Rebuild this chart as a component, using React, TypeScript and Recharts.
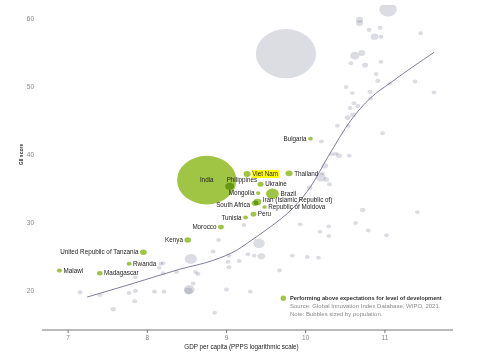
import { ScatterChart, Scatter, XAxis, YAxis, Label } from 'recharts'

const FONT = '"Liberation Sans", Arial, sans-serif'
const GREEN = '#A0C443'
const GREY = '#DCDDE2'

const xTicks = [7, 8, 9, 10, 11]
const yTicks = [20, 30, 40, 50, 60]

// countries performing above expectations (labelled, green)
const countries = [
  'India', 'Philippines', 'Viet Nam', 'Thailand', 'Ukraine', 'Mongolia', 'Brazil',
  'South Africa', 'Iran (Islamic Republic of)', 'Republic of Moldova', 'Bulgaria',
  'Peru', 'Tunisia', 'Morocco', 'Kenya', 'United Republic of Tanzania', 'Rwanda',
  'Malawi', 'Madagascar',
]
const countryGdp = [8.75, 9.04, 9.26, 9.79, 9.43, 9.4, 9.58, 9.36, 9.39, 9.48, 10.06, 9.34, 9.24, 8.93, 8.51, 7.95, 7.77, 6.89, 7.4]
const countryGii = [36.3, 35.4, 37.2, 37.3, 35.7, 34.4, 34.3, 32.9, 33.1, 32.35, 42.4, 31.3, 30.8, 29.4, 27.5, 25.7, 24.0, 23.0, 22.6]
const countryPop = [1380, 110, 70, 70, 44, 3, 213, 59, 84, 3, 7, 33, 12, 37, 54, 60, 13, 19, 28]

// all other economies (grey)
const otherGdp = [
  9.75, 11.04, 10.68, 10.68, 10.8, 10.94, 10.87, 10.95, 11.45, 10.62, 10.71, 10.57, 10.75, 10.95,
  10.89, 10.91, 11.06, 11.38, 11.62, 10.51, 10.59, 10.81, 10.82, 10.61, 10.66, 10.56, 10.53, 10.6,
  10.4, 10.54, 10.97, 10.2, 10.33, 10.38, 10.42, 10.55, 10.24, 10.21, 10.19, 10.26, 10.3, 10.05,
  10.72, 11.41, 9.93, 10.63, 10.79, 11.02, 10.29, 10.18, 10.29, 10.16, 9.41, 8.55, 8.83, 9.03,
  9.02, 9.03, 9.27, 9.35, 9.44, 9.16, 9.83, 10.02, 9.67, 8.61, 8.64, 8.58, 8.53, 8.52, 9.0, 9.3,
  8.85, 8.9, 8.2, 8.37, 8.21, 8.17, 8.15, 8.2, 7.85, 7.15, 7.4, 7.77, 7.85, 8.09, 7.84, 7.57, 9.22,
]
const otherGii = [
  54.9, 61.4, 59.9, 59.4, 58.4, 58.7, 57.4, 57.4, 57.9, 54.6, 55.0, 53.5, 53.2, 53.7,
  51.9, 50.9, 50.5, 50.8, 49.2, 50.0, 49.1, 49.3, 48.3, 47.6, 47.2, 46.9, 45.5, 45.9,
  44.3, 44.3, 43.2, 42.0, 40.1, 40.2, 39.9, 39.9, 38.4, 37.3, 36.7, 36.4, 35.7, 35.2,
  31.9, 31.6, 29.8, 30.0, 28.9, 28.2, 29.5, 28.7, 28.1, 24.9, 27.0, 24.7, 25.8, 25.2,
  24.3, 23.5, 25.4, 25.2, 25.1, 24.4, 25.2, 25.0, 23.0, 22.8, 22.5, 21.1, 20.2, 20.0, 20.2, 19.9,
  16.8, 27.5, 24.1, 22.8, 19.9, 24.0, 23.4, 22.6, 22.0, 19.8, 19.4, 19.7, 20.0, 19.9, 18.5, 17.3, 29.7,
]
const otherPop = [
  1400, 330, 70, 70, 15, 15, 83, 10, 8, 126, 67, 10, 40, 10,
  10, 15, 10, 10, 10, 10, 10, 10, 10, 10, 10, 10, 40, 40,
  10, 10, 10, 10, 10, 10, 38, 10, 60, 10, 145, 30, 10, 25,
  25, 10, 10, 10, 10, 10, 10, 10, 10, 10, 180, 200, 10, 15,
  15, 15, 10, 10, 80, 10, 10, 10, 10, 15, 15, 15, 165, 100, 15, 10,
  10, 10, 10, 10, 15, 10, 10, 10, 10, 20, 15, 10, 20, 15, 15, 25, 10,
]

// fitted trend line
const trendGdp = [7.24, 7.82, 8.41, 8.83, 9.13, 9.32, 9.55, 9.84, 10.06, 10.28, 10.57, 10.82, 11.08, 11.62]
const trendGii = [19.1, 21.1, 23.2, 24.5, 26.0, 27.5, 29.4, 32.2, 35.3, 39.7, 45.1, 48.4, 50.7, 55.1]

const labelSide: Record<string, string> = {
  India: 'center',
  Philippines: 'above',
  'Viet Nam': 'right',
  Thailand: 'right',
  Ukraine: 'right',
  Brazil: 'right',
  'Iran (Islamic Republic of)': 'upRight',
  'Republic of Moldova': 'right',
  'South Africa': 'downLeft',
  Peru: 'right',
  Rwanda: 'right',
  Malawi: 'right',
  Madagascar: 'right',
}

const green = countries.map((name, i) => ({ name, gdp: countryGdp[i], gii: countryGii[i], pop: countryPop[i] }))
const grey = otherGdp.map((gdp, i) => ({ gdp, gii: otherGii[i], pop: otherPop[i] }))
const trend = trendGdp.map((gdp, i) => ({ gdp, gii: trendGii[i] }))

const radius = (pop: number) => 1.8 + 0.0163 * pop

function Bubble(props: any) {
  const { cx, cy, payload, fill } = props
  const ry = radius(payload.pop)
  return <ellipse cx={cx} cy={cy} rx={ry * 1.22} ry={ry} fill={fill} style={{ mixBlendMode: 'multiply' }} />
}

function GreenBubble(props: any) {
  const { cx, cy, payload, fill } = props
  const ry = radius(payload.pop)
  const rx = ry * 1.22
  const side = labelSide[payload.name] ?? 'left'
  let tx = cx - rx - 1.5
  let ty = cy
  let anchor = 'end'
  if (side === 'right') {
    tx = cx + rx + 1.5
    anchor = 'start'
  } else if (side === 'upRight') {
    tx = cx + rx + 1.5
    ty = cy - 2.5
    anchor = 'start'
  } else if (side === 'center') {
    tx = cx
    anchor = 'middle'
  } else if (side === 'above') {
    tx = cx - 3
    ty = cy - 6
    anchor = 'start'
  } else if (side === 'downLeft') {
    ty = cy + 1.5
  }
  const w = payload.name.length * 6.3 * 0.52
  return (
    <g>
      <ellipse cx={cx} cy={cy} rx={rx} ry={ry} fill={fill} style={{ mixBlendMode: 'multiply' }} />
      {payload.name === 'Viet Nam' && <rect x={tx - 0.5} y={ty - 4} width={w + 1} height={8} fill="#FFFF00" />}
      <text x={tx} y={ty} dy="0.35em" textAnchor={anchor} fontSize={6.3} fill="#222" fontFamily={FONT}>
        {payload.name}
      </text>
    </g>
  )
}

function YTitle(props: any) {
  const vb = props.viewBox || {}
  const x = (vb.x ?? 12) + (vb.width ?? 30) - 21
  const y = (vb.y ?? 5) + (vb.height ?? 325) * 0.46
  return (
    <text x={x} y={y} transform={`rotate(-90 ${x} ${y})`} textAnchor="middle" dominantBaseline="central"
      fontSize={5} fontWeight="bold" fill="#333" fontFamily={FONT}>
      GII score
    </text>
  )
}

export default function App() {
  const tick = { fontSize: 6.5, fill: '#888', fontFamily: FONT }
  return (
    <div style={{ position: 'absolute', left: 0, top: 0, width: 480, height: 360, background: '#fff' }}>
      <ScatterChart width={480} height={360} margin={{ top: 5, right: 27, bottom: 0, left: 12 }}>
        <XAxis
          type="number"
          dataKey="gdp"
          domain={[6.67, 11.86]}
          ticks={xTicks}
          allowDataOverflow
          height={30}
          axisLine={{ stroke: '#777' }}
          tickLine={{ stroke: '#777' }}
          tickSize={3}
          tickMargin={2}
          tick={tick}
        >
          <Label value="GDP per capita (PPPS logarithmic scale)" position="insideBottom" offset={11} dx={-6}
            fontSize={6.3} fill="#222" fontFamily={FONT} />
        </XAxis>
        <YAxis
          type="number"
          dataKey="gii"
          domain={[14.26, 62.06]}
          ticks={yTicks}
          allowDataOverflow
          width={30}
          axisLine={false}
          tickLine={false}
          tickSize={0}
          tickMargin={8}
          tick={tick}
        >
          <Label content={YTitle} />
        </YAxis>
        <Scatter data={grey} fill={GREY} shape={Bubble} isAnimationActive={false} />
        <Scatter data={trend} line={{ stroke: '#80809A', strokeWidth: 1 }} lineJointType="monotoneX"
          shape={() => <g />} isAnimationActive={false} />
        <Scatter data={green} fill={GREEN} shape={GreenBubble} isAnimationActive={false} />
      </ScatterChart>
      <svg width={480} height={360} style={{ position: 'absolute', left: 0, top: 0, pointerEvents: 'none' }}>
        <circle cx={283.3} cy={298.3} r={2.7} fill={GREEN} />
        <text x={290} y={300.3} fontSize={5.7} fontWeight="bold" fill="#333" fontFamily={FONT}>
          Performing above expectations for level of development
        </text>
        <text x={290} y={308} fontSize={6} fill="#8a8a8a" fontFamily={FONT}>
          Source: Global Innovation Index Database, WIPO, 2021.
        </text>
        <text x={290} y={316.3} fontSize={6} fill="#8a8a8a" fontFamily={FONT}>
          Note: Bubbles sized by population.
        </text>
      </svg>
    </div>
  )
}
